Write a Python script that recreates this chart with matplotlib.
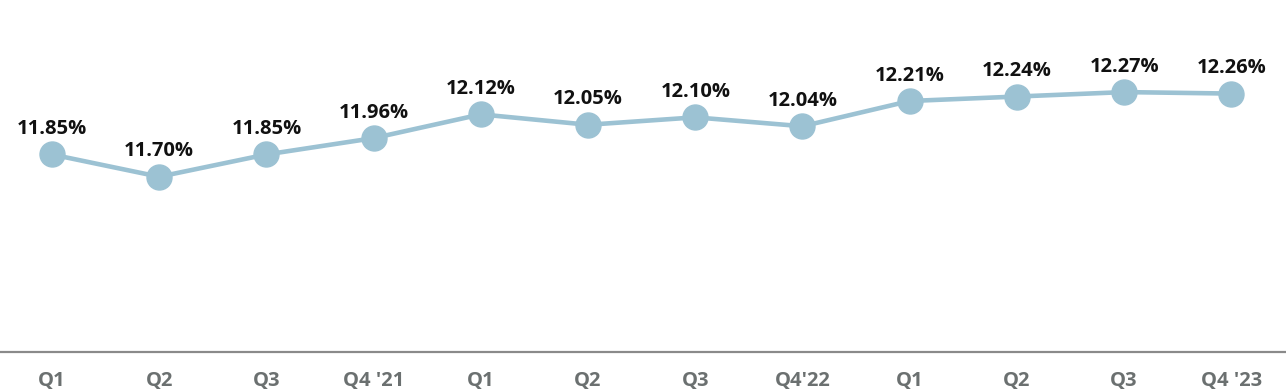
import matplotlib.pyplot as plt

quarters = ['Q1', 'Q2', 'Q3', "Q4 '21", 'Q1', 'Q2', 'Q3', "Q4'22", 'Q1', 'Q2', 'Q3', "Q4 '23"]
values = [11.85, 11.70, 11.85, 11.96, 12.12, 12.05, 12.10, 12.04, 12.21, 12.24, 12.27, 12.26]

plt.rcParams['font.family'] = ['Open Sans', 'DejaVu Sans']

fig = plt.figure(figsize=(12.86, 3.92), dpi=100)
ax = fig.add_axes([0, 0.102, 1, 0.898])

x = list(range(len(values)))
ax.plot(x, values, color='#9cc2d3', lw=3.3, marker='o', markersize=18, zorder=3)

for xi, v in zip(x, values):
    ax.annotate(f'{v:.2f}%', (xi, v), xytext=(0, 11), textcoords='offset points',
                ha='center', va='bottom', fontsize=14.5, fontweight='bold', color='#111111')

ax.set_xlim(-0.485, 11.51)
ax.set_ylim(10.52, 12.89)
ax.set_xticks(x)
ax.set_xticklabels(quarters, fontsize=14.5, fontweight='bold', color='#6b7070')
ax.tick_params(axis='x', length=0, pad=14)
ax.set_yticks([])
for s in ['top', 'left', 'right']:
    ax.spines[s].set_visible(False)
ax.spines['bottom'].set_color('#8a8a8a')
ax.spines['bottom'].set_linewidth(1.6)

fig.savefig('out.png', dpi=100)
